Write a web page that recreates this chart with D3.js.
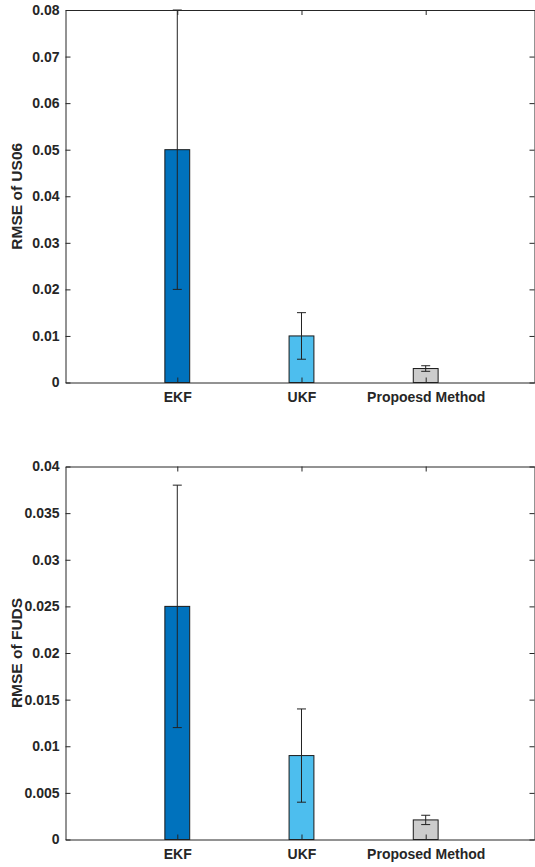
<!DOCTYPE html>
<html>
<head>
<meta charset="utf-8">
<script src="https://cdn.jsdelivr.net/npm/d3@7"></script>
<style>
  body { margin: 0; background: #fff; }
  svg text { font-family: "Liberation Sans", Arial, sans-serif; font-weight: bold; fill: #262626; }
</style>
</head>
<body>
<div id="chart"></div>
<script>
// data
var methodsTop = ["EKF", "UKF", "Propoesd Method"];
var methodsBottom = ["EKF", "UKF", "Proposed Method"];
var barColors = ["#0072bd", "#4dbeee", "#cccccc"];

var us06Rmse = [0.05, 0.01, 0.003];
var us06Low = [0.02, 0.005, 0.0024];
var us06High = [0.08, 0.015, 0.0036];

var fudsRmse = [0.025, 0.009, 0.0021];
var fudsLow = [0.012, 0.004, 0.0016];
var fudsHigh = [0.038, 0.014, 0.0026];

var us06Ticks = [0, 0.01, 0.02, 0.03, 0.04, 0.05, 0.06, 0.07, 0.08];
var us06TickLabels = ["0", "0.01", "0.02", "0.03", "0.04", "0.05", "0.06", "0.07", "0.08"];
var fudsTicks = [0, 0.005, 0.01, 0.015, 0.02, 0.025, 0.03, 0.035, 0.04];
var fudsTickLabels = ["0", "0.005", "0.01", "0.015", "0.02", "0.025", "0.03", "0.035", "0.04"];

var svgWidth = 535;
var svgHeight = 867;

var svg = d3.select("#chart")
  .append("svg")
  .attr("width", svgWidth)
  .attr("height", svgHeight);

var axisColor = "#262626";
var left = 65.5;
var right = 535;

// x position of categories 1..3 (MATLAB style numeric axis)
var xScale = d3.scaleLinear()
  .domain([0.1, 3.88])
  .range([left, right]);
var barWidth = 0.2;

function drawPanel(opts) {
  var yScale = d3.scaleLinear()
    .domain([0, opts.yMax])
    .range([opts.bottom, opts.top]);

  var g = svg.append("g");
  var idx = [0, 1, 2];

  // bars
  g.selectAll("rect.bar")
    .data(idx)
    .enter()
    .append("rect")
    .attr("class", "bar")
    .attr("x", i => xScale(i + 1 - barWidth / 2))
    .attr("width", i => xScale(i + 1 + barWidth / 2) - xScale(i + 1 - barWidth / 2))
    .attr("y", i => yScale(opts.values[i]))
    .attr("height", i => yScale(0) - yScale(opts.values[i]))
    .attr("fill", i => barColors[i])
    .attr("stroke", "#1a1a1a")
    .attr("stroke-width", 1);

  // error bars
  var capHalf = 4.5;
  idx.forEach(function(i) {
    var cx = xScale(i + 1);
    g.append("line")
      .attr("x1", cx).attr("x2", cx)
      .attr("y1", yScale(opts.low[i])).attr("y2", yScale(opts.high[i]))
      .attr("stroke", "#222").attr("stroke-width", 1);
    [opts.low[i], opts.high[i]].forEach(function(v) {
      g.append("line")
        .attr("x1", cx - capHalf).attr("x2", cx + capHalf)
        .attr("y1", yScale(v)).attr("y2", yScale(v))
        .attr("stroke", "#222").attr("stroke-width", 1);
    });
  });

  // axes box
  var leftAxis = d3.axisLeft(yScale)
    .tickValues(opts.ticks)
    .tickFormat((d, i) => opts.tickLabels[i])
    .tickSizeInner(-5)
    .tickSizeOuter(0)
    .tickPadding(6);
  var la = g.append("g")
    .attr("transform", `translate(${left}, 0)`)
    .call(leftAxis);

  var rightAxis = d3.axisRight(yScale)
    .tickValues(opts.ticks)
    .tickFormat("")
    .tickSizeInner(-5)
    .tickSizeOuter(0);
  var ra = g.append("g")
    .attr("transform", `translate(${right - 0.5}, 0)`)
    .call(rightAxis);

  var bottomAxis = d3.axisBottom(xScale)
    .tickValues([1, 2, 3])
    .tickFormat((d, i) => opts.categories[i])
    .tickSizeInner(-5)
    .tickSizeOuter(0)
    .tickPadding(10);
  var ba = g.append("g")
    .attr("transform", `translate(0, ${opts.bottom})`)
    .call(bottomAxis);

  var topAxis = d3.axisTop(xScale)
    .tickValues([1, 2, 3])
    .tickFormat("")
    .tickSizeInner(-5)
    .tickSizeOuter(0);
  var ta = g.append("g")
    .attr("transform", `translate(0, ${opts.top})`)
    .call(topAxis);

  [la, ra, ba, ta].forEach(function(a) {
    a.select(".domain").attr("stroke", axisColor).attr("stroke-width", 1);
    a.selectAll(".tick line").attr("stroke", axisColor);
    a.selectAll(".tick text")
      .attr("font-size", "14px")
      .attr("font-family", "Liberation Sans, Arial, sans-serif")
      .attr("font-weight", "bold")
      .attr("fill", axisColor);
  });

  // y label
  g.append("text")
    .attr("transform", `translate(22, ${(opts.top + opts.bottom) / 2}) rotate(-90)`)
    .attr("text-anchor", "middle")
    .attr("font-size", "15.5px")
    .text(opts.yLabel);
}

drawPanel({
  top: 10,
  bottom: 382.5,
  yMax: 0.08,
  values: us06Rmse,
  low: us06Low,
  high: us06High,
  ticks: us06Ticks,
  tickLabels: us06TickLabels,
  categories: methodsTop,
  yLabel: "RMSE of US06"
});

drawPanel({
  top: 466.5,
  bottom: 839.5,
  yMax: 0.04,
  values: fudsRmse,
  low: fudsLow,
  high: fudsHigh,
  ticks: fudsTicks,
  tickLabels: fudsTickLabels,
  categories: methodsBottom,
  yLabel: "RMSE of FUDS"
});
</script>
</body>
</html>
